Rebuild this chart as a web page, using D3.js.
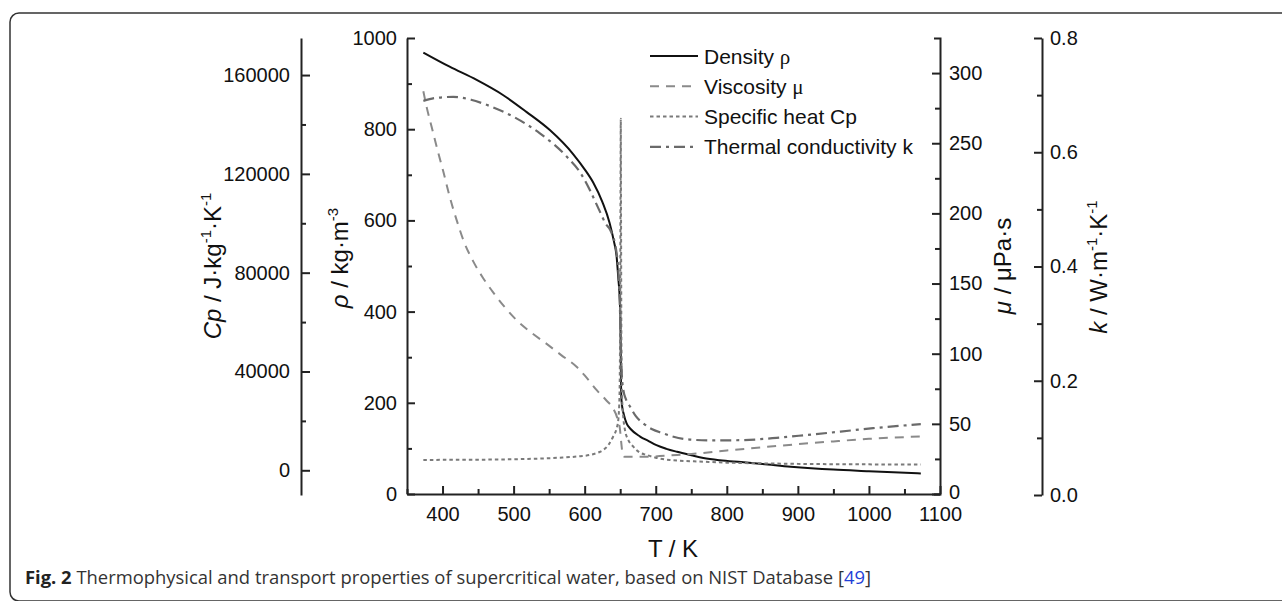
<!DOCTYPE html>
<html>
<head>
<meta charset="utf-8">
<script src="https://cdn.jsdelivr.net/npm/d3@7"></script>
<style>
  html, body { margin: 0; padding: 0; background: #fff; overflow: hidden; }
  svg { display: block; }
  .tick text { font-family: "Liberation Sans", Arial, sans-serif; font-size: 20px; fill: #111; }
</style>
</head>
<body>
<svg id="chart" width="1282" height="601"></svg>
<script>
// ---------------- DATA ----------------
const densityT = [373, 410, 448, 485, 518, 551, 584, 600, 612, 625, 635, 641, 645, 647.5, 649, 650.2, 650.7, 651, 651.5, 652.5, 655, 659, 665, 678, 690, 701, 715, 730, 750, 767, 790, 820, 850, 890, 950, 1000, 1073];
const densityVals = [968, 937, 908, 875, 838, 798, 745, 712, 683, 640, 595, 555, 520, 470, 440, 390, 320, 260, 215, 195, 175, 155, 142, 126, 116, 107, 99, 92.5, 85, 79, 74, 70, 66, 60, 53.5, 50, 45];

const viscosityT = [373, 378, 385, 393, 401, 410, 420, 430, 443, 457, 471.5, 487, 504, 525, 546.5, 567, 589, 600, 617, 630, 640, 646, 649.7, 651, 652.1, 653.5, 656, 680, 700, 720, 750, 800, 850, 900, 950, 1000, 1073];
const viscosityVals = [287, 275, 261, 245, 230, 212, 195, 180, 166, 154, 143.5, 133.5, 124, 115, 107, 99, 90.5, 84.5, 74, 67, 61, 54, 46, 39, 33.6, 28, 26.5, 26.5, 26.8, 27.5, 28.5, 31, 33.3, 35.5, 37.5, 39.3, 41];

const heatT = [373, 420, 470, 520, 565, 590, 607, 620, 626, 634, 640, 645, 647.3, 649, 649.9, 650.4, 650.8, 651.2, 651.7, 652.6, 654.5, 656.7, 661, 668.4, 677, 687.3, 700, 720, 767, 800, 850, 900, 1000, 1073];
const heatVals = [4200, 4250, 4350, 4600, 5100, 5600, 6200, 7300, 8200, 10500, 13600, 17000, 20400, 30000, 60000, 110000, 142300, 100000, 50000, 30000, 21000, 16300, 12500, 9560, 7300, 6200, 5100, 4170, 3480, 3100, 2800, 2600, 2400, 2300];

const conductT = [373, 390, 415, 440, 462, 500, 537, 575, 595, 608, 620, 630, 636, 645, 648, 650, 651.2, 652.3, 654.4, 658, 663.8, 672, 682.5, 695, 710.6, 725, 748, 780, 820, 870, 912, 960, 1006, 1073];
const conductVals = [0.690, 0.695, 0.697, 0.692, 0.683, 0.662, 0.633, 0.592, 0.562, 0.532, 0.500, 0.474, 0.464, 0.423, 0.38, 0.31, 0.25, 0.21, 0.184, 0.168, 0.155, 0.138, 0.1255, 0.115, 0.108, 0.102, 0.097, 0.0955, 0.096, 0.100, 0.105, 0.111, 0.117, 0.124];

const xTicks = [400, 500, 600, 700, 800, 900, 1000, 1100];
const xMinor = [350, 450, 550, 650, 750, 850, 950, 1050];
const rhoTicks = [0, 200, 400, 600, 800, 1000];
const rhoMinor = [100, 300, 500, 700, 900];
const muTicks = [0, 50, 100, 150, 200, 250, 300];
const muMinor = [25, 75, 125, 175, 225, 275];
const cpTicks = [0, 40000, 80000, 120000, 160000];
const cpMinor = [20000, 60000, 100000, 140000];
const kTicks = [0.0, 0.2, 0.4, 0.6, 0.8];
const kMinor = [0.1, 0.3, 0.5, 0.7];

const legendLabels = [["Density ", "ρ"], ["Viscosity ", "μ"], ["Specific heat Cp", ""], ["Thermal conductivity k", ""]];

// ---------------- DRAW ----------------
const svg = d3.select("#chart");
const FONT = '"Liberation Sans", Arial, sans-serif';

// Frame border
svg.append("rect")
  .attr("x", 10).attr("y", 13).attr("width", 1400).attr("height", 588)
  .attr("rx", 9).attr("ry", 9)
  .attr("fill", "none").attr("stroke", "#333").attr("stroke-width", 1.5);

const x = d3.scaleLinear().domain([350, 1100]).range([407, 940]);
const yRho = d3.scaleLinear().domain([0, 1000]).range([494, 38]);
const yMu = d3.scaleLinear().domain([0, 325]).range([494, 38]);
const yCp = d3.scaleLinear().domain([-10000, 175000]).range([495, 38]);
const yK = d3.scaleLinear().domain([0, 0.8]).range([495, 38]);

function styleAxis(g) {
  g.attr("font-family", FONT).attr("font-size", 20);
  g.selectAll("path.domain").attr("stroke", "#222").attr("stroke-width", 2);
  g.selectAll(".tick line").attr("stroke", "#222").attr("stroke-width", 2);
}

// Bottom X axis
const gx = svg.append("g").attr("transform", "translate(0,494)")
  .call(d3.axisBottom(x).tickValues(xTicks).tickSizeInner(-8).tickSizeOuter(0).tickPadding(13).tickFormat(d3.format("d")));
styleAxis(gx);
const gxm = svg.append("g").attr("transform", "translate(0,494)")
  .call(d3.axisBottom(x).tickValues(xMinor).tickSizeInner(-5).tickSizeOuter(0).tickFormat(""));
gxm.select("path.domain").remove(); styleAxis(gxm);

// Left rho axis
const gr = svg.append("g").attr("transform", "translate(407,0)")
  .call(d3.axisLeft(yRho).tickValues(rhoTicks).tickSizeInner(-8).tickSizeOuter(0).tickPadding(10).tickFormat(d3.format("d")));
styleAxis(gr);
const grm = svg.append("g").attr("transform", "translate(407,0)")
  .call(d3.axisLeft(yRho).tickValues(rhoMinor).tickSizeInner(-5).tickSizeOuter(0).tickFormat(""));
grm.select("path.domain").remove(); styleAxis(grm);

// Right mu axis
const gm = svg.append("g").attr("transform", "translate(940,0)")
  .call(d3.axisRight(yMu).tickValues(muTicks).tickSizeInner(-8).tickSizeOuter(-6).tickPadding(9).tickFormat(d3.format("d")));
styleAxis(gm);
// lift the "0" label a little so it clears the 1100 label below it
gm.selectAll(".tick").filter(d => d === 0).select("text").attr("dy", "0.22em");
const gmm = svg.append("g").attr("transform", "translate(940,0)")
  .call(d3.axisRight(yMu).tickValues(muMinor).tickSizeInner(-5).tickSizeOuter(0).tickFormat(""));
gmm.select("path.domain").remove(); styleAxis(gmm);

// Far-left Cp axis
const gc = svg.append("g").attr("transform", "translate(301,0)")
  .call(d3.axisLeft(yCp).tickValues(cpTicks).tickSizeInner(-9).tickSizeOuter(0).tickPadding(11).tickFormat(d3.format("d")));
styleAxis(gc);
const gcm = svg.append("g").attr("transform", "translate(301,0)")
  .call(d3.axisLeft(yCp).tickValues(cpMinor).tickSizeInner(-5).tickSizeOuter(0).tickFormat(""));
gcm.select("path.domain").remove(); styleAxis(gcm);

// Far-right k axis
const gk = svg.append("g").attr("transform", "translate(1042,0)")
  .call(d3.axisRight(yK).tickValues(kTicks).tickSizeInner(-8).tickSizeOuter(0).tickPadding(8).tickFormat(d3.format(".1f")));
styleAxis(gk);
const gkm = svg.append("g").attr("transform", "translate(1042,0)")
  .call(d3.axisRight(yK).tickValues(kMinor).tickSizeInner(-5).tickSizeOuter(0).tickFormat(""));
gkm.select("path.domain").remove(); styleAxis(gkm);

// Series
const series = [
  { t: densityT, v: densityVals, y: yRho, color: "#111", width: 2, dash: null },
  { t: viscosityT, v: viscosityVals, y: yMu, color: "#8a8a8a", width: 2, dash: "9,7" },
  { t: heatT, v: heatVals, y: yCp, color: "#7a7a7a", width: 2, dash: "3.5,3" },
  { t: conductT, v: conductVals, y: yK, color: "#6a6a6a", width: 2.2, dash: "11,5,3,5" }
];

series.forEach(s => {
  const pts = s.t.map((t, i) => [t, s.v[i]]);
  const line = d3.line().x(d => x(d[0])).y(d => s.y(d[1])).curve(d3.curveMonotoneX);
  svg.append("path").datum(pts)
    .attr("d", line)
    .attr("fill", "none")
    .attr("stroke", s.color)
    .attr("stroke-width", s.width)
    .attr("stroke-dasharray", s.dash)
    .attr("stroke-linejoin", "round");
});

// Legend
const legend = svg.append("g");
legendLabels.forEach((lab, i) => {
  const yy = 56 + i * 30.3;
  const s = series[i];
  legend.append("line")
    .attr("x1", 650).attr("x2", 698).attr("y1", yy).attr("y2", yy)
    .attr("stroke", s.color).attr("stroke-width", s.width)
    .attr("stroke-dasharray", s.dash);
  const t = legend.append("text")
    .attr("x", 704).attr("y", yy + 7.5)
    .attr("font-family", FONT).attr("font-size", 21).attr("fill", "#111");
  t.append("tspan").text(lab[0]);
  if (lab[1]) t.append("tspan").attr("font-family", '"Liberation Serif", "Times New Roman", serif').text(lab[1]);
});

// Axis titles
function rotTitle(cx, cy, parts) {
  const t = svg.append("text")
    .attr("transform", `translate(${cx},${cy}) rotate(-90)`)
    .attr("text-anchor", "middle")
    .attr("font-family", FONT).attr("font-size", 24).attr("fill", "#111");
  parts.forEach(p => {
    const ts = t.append("tspan").text(p.t);
    if (p.i) ts.attr("font-style", "italic");
    if (p.sup) ts.attr("font-size", 15).attr("dy", "-10");
    if (p.down) ts.attr("dy", "10");
  });
  return t;
}
rotTitle(221, 266, [{ t: "Cp", i: true }, { t: " / J·kg" }, { t: "-1", sup: true }, { t: "·K", down: true }, { t: "-1", sup: true }]);
rotTitle(348, 258, [{ t: "ρ", i: true }, { t: " / kg·m" }, { t: "-3", sup: true }]);
rotTitle(1011, 266, [{ t: "μ", i: true }, { t: " / μPa·s" }]);
rotTitle(1107, 267, [{ t: "k", i: true }, { t: " / W·m" }, { t: "-1", sup: true }, { t: "·K", down: true }, { t: "-1", sup: true }]);

svg.append("text")
  .attr("x", 673).attr("y", 557).attr("text-anchor", "middle")
  .attr("font-family", FONT).attr("font-size", 24).attr("fill", "#111")
  .text("T / K");

// Caption
const cap = svg.append("text")
  .attr("x", 25).attr("y", 584)
  .attr("font-family", '"Open Sans", "Noto Sans", sans-serif').attr("font-size", 18.4).attr("fill", "#333");
cap.append("tspan").attr("font-weight", "bold").attr("fill", "#222").text("Fig. 2");
cap.append("tspan").text(" Thermophysical and transport properties of supercritical water, based on NIST Database [");
cap.append("tspan").attr("fill", "#1f3fd8").text("49");
cap.append("tspan").text("]");
</script>
</body>
</html>
